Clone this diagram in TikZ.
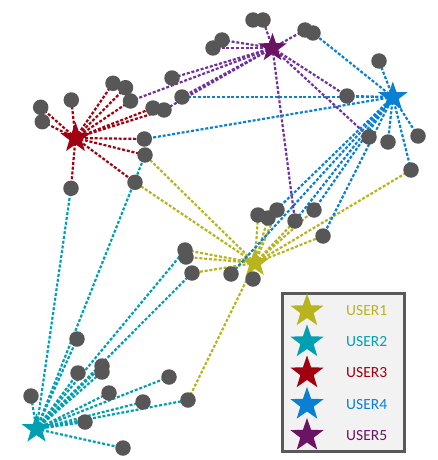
\documentclass[tikz,border=0pt]{standalone}
\usepackage{fontspec}
\setmainfont{Carlito}
\usetikzlibrary{shapes.geometric}
\definecolor{cOlive}{HTML}{B8B41E}
\definecolor{cTeal}{HTML}{00A0B2}
\definecolor{cRed}{HTML}{A0000F}
\definecolor{cBlue}{HTML}{0A80D4}
\definecolor{cPurple}{HTML}{7030A0}
\definecolor{cPurpleStar}{HTML}{6C1464}
\definecolor{cDot}{HTML}{575757}
\definecolor{cBox}{HTML}{595959}
\definecolor{cBoxFill}{HTML}{F2F2F2}
\begin{document}
\begin{tikzpicture}[x=1pt,y=-1pt,
  link/.style={line width=2.2pt, dash pattern=on 3pt off 1.8pt},
  dotnode/.style={circle, fill=cDot, minimum size=15.5pt, inner sep=0pt},
  userstar/.style={star, star points=5, star point ratio=2.5, inner sep=0pt, minimum size=#1},
  legtext/.style={anchor=west, inner sep=0pt, font=\fontsize{15.5}{18}\selectfont}]
\useasboundingbox (0,0) rectangle (438,460);
% star centres
\coordinate (c1) at (255,263);
\coordinate (c2) at (36.5,429);
\coordinate (c3) at (75.5,138);
\coordinate (c4) at (392.8,97);
\coordinate (c5) at (272.5,48);
% dot positions
\foreach \n/\px/\py in {d1/40.7/107.3, d2/42.3/121.7, d3/71.3/100, d4/113/83.3, d5/125.5/87.7,
  d6/130.5/101, d7/153/108, d8/164/110, d9/172/78, d10/182/97, d11/144.3/139, d12/145/155,
  d13/135/182.3, d14/71/188.3, d15/213/48, d16/222/40, d17/253/20, d18/263/20, d19/305/30,
  d20/313/33, d21/379/61, d22/347/96, d23/369/137, d24/388/142, d25/418/136, d26/411/170,
  d27/258/215, d28/268/218, d29/277/210, d30/295/221, d31/314/210, d32/323/236, d33/231/274,
  d34/253/279, d35/185/250, d36/186/257, d37/192/273, d38/77/339, d39/78/373, d40/102/366,
  d41/102/372, d42/31/396, d43/109/393, d44/143/402, d45/169/377, d46/188/400, d47/85/422,
  d48/123/448}
  \coordinate (\n) at (\px,\py);
% connectors
\foreach \d in {d12,d13,d35,d36,d37,d46,d26,d32,d27,d28,d29,d30,d31}
  \draw[link,cOlive] (c1) -- (\d);
\foreach \d in {d14,d12,d35,d37,d38,d39,d40,d41,d42,d43,d44,d45,d46,d47,d48}
  \draw[link,cTeal] (c2) -- (\d);
\foreach \d in {d1,d2,d3,d4,d5,d6,d7,d8,d11,d12,d13,d14}
  \draw[link,cRed] (c3) -- (\d);
\foreach \d in {d6,d9,d10,d8,d15,d16,d18,d19,d22,d23,d30}
  \draw[link,cPurple] (c5) -- (\d);
\node[userstar=30pt, fill=cOlive] (u1) at (c1) {};
\foreach \d in {d10,d11,d20,d21,d22,d24,d25,d26,d28,d30,d31,d32,d33}
  \draw[link,cBlue] (c4) -- (\d);
% dots
\foreach \n in {1,...,48}
  \node[dotnode] (n\n) at (d\n) {};
% stars
\node[userstar=31pt, fill=cTeal] (u2) at (c2) {};
\node[userstar=32pt, fill=cRed] (u3) at (c3) {};
\node[userstar=31pt, fill=cBlue] (u4) at (c4) {};
\node[userstar=30pt, fill=cPurpleStar] (u5) at (c5) {};
% legend
\node[draw=cBox, line width=3pt, fill=cBoxFill, minimum width=122pt, minimum height=158pt, inner sep=0pt] (legend) at (343.5,372.5) {};
\node[userstar=35pt, fill=cOlive] (l1) at (307,311) {};
\node[userstar=35pt, fill=cTeal] (l2) at (307,342) {};
\node[userstar=35pt, fill=cRed] (l3) at (307,373) {};
\node[userstar=35pt, fill=cBlue] (l4) at (307,404.5) {};
\node[userstar=35pt, fill=cPurpleStar] (l5) at (307,435.5) {};
\node[legtext, text=cOlive] (t1) at (346,311) {USER1};
\node[legtext, text=cTeal] (t2) at (346,342) {USER2};
\node[legtext, text=cRed] (t3) at (346,373) {USER3};
\node[legtext, text=cBlue] (t4) at (346,404.5) {USER4};
\node[legtext, text=cPurpleStar] (t5) at (346,435.5) {USER5};
\end{tikzpicture}
\end{document}
